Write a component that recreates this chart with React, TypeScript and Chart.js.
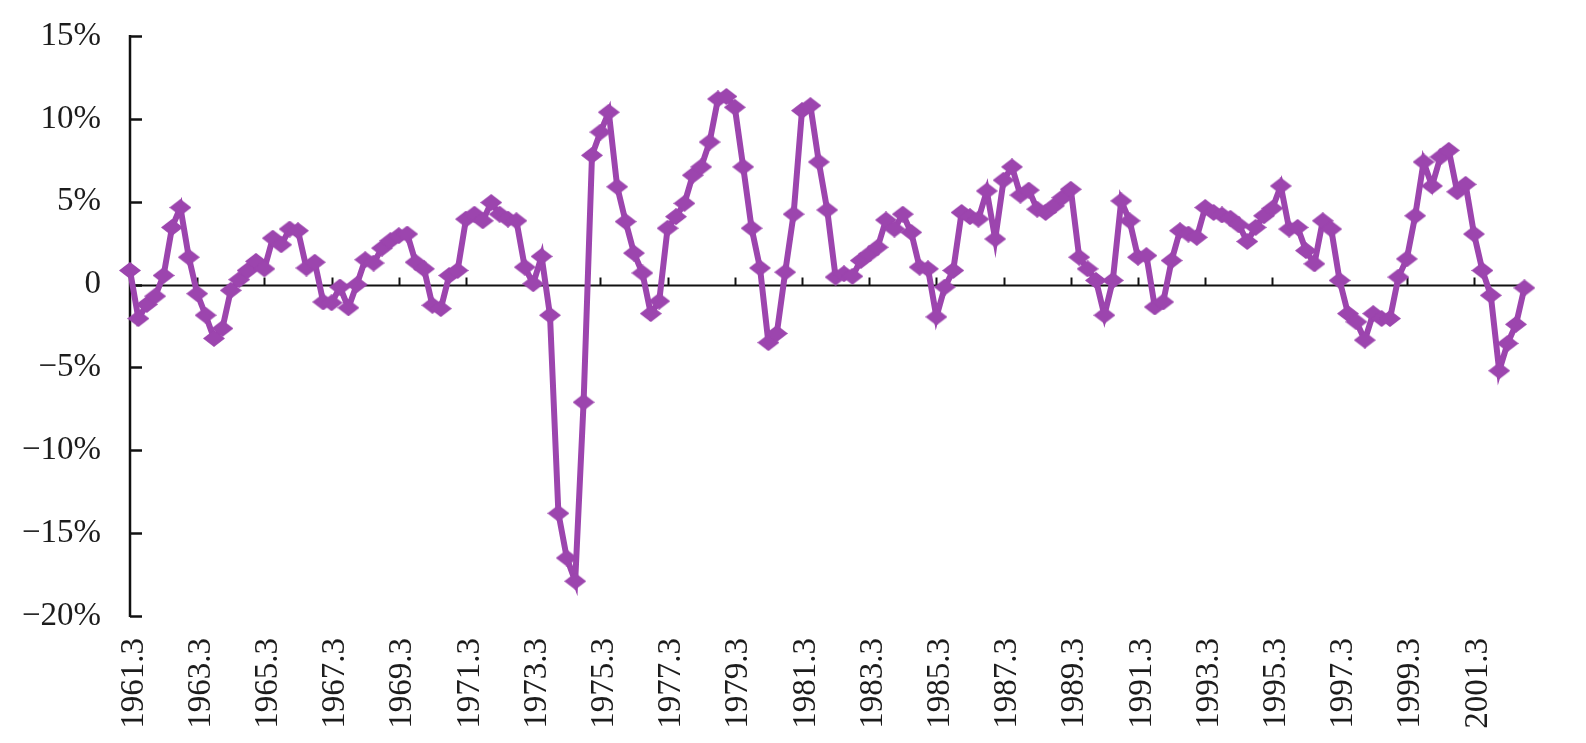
import React, { useEffect, useRef } from 'react';
import { Chart, registerables } from 'chart.js';

Chart.register(...registerables);

// Quarterly growth rate (%), starting 1961 Q3
const START_YEAR = 1961;
const START_QUARTER = 3;

const GROWTH: number[] = [
  0.85, -2.05, -1.2, -0.7, 0.55, 3.45, 4.65, 1.65, -0.55, -1.85,
  -3.25, -2.65, -0.35, 0.3, 0.85, 1.4, 0.95, 2.8, 2.4, 3.35,
  3.25, 1.0, 1.35, -1.05, -1.1, -0.15, -1.4, 0.0, 1.5, 1.3,
  2.2, 2.65, 2.95, 3.05, 1.35, 0.95, -1.25, -1.45, 0.55, 0.85,
  3.95, 4.25, 3.85, 4.95, 4.25, 3.95, 3.85, 1.05, 0.05, 1.7,
  -1.85, -13.8, -16.5, -17.9, -7.1, 7.8, 9.2, 10.4, 5.9, 3.8,
  1.9, 0.7, -1.75, -1.0, 3.4, 4.1, 4.9, 6.6, 7.1, 8.6,
  11.2, 11.35, 10.7, 7.1, 3.4, 1.0, -3.5, -2.95, 0.75, 4.25,
  10.5, 10.8, 7.4, 4.5, 0.45, 0.65, 0.5, 1.45, 1.85, 2.25,
  3.9, 3.35, 4.25, 3.15, 1.05, 0.95, -1.95, -0.15, 0.85, 4.35,
  4.1, 3.95, 5.65, 2.75, 6.3, 7.1, 5.4, 5.7, 4.55, 4.35,
  4.75, 5.25, 5.75, 1.65, 0.95, 0.25, -1.85, 0.25, 5.05, 3.85,
  1.65, 1.75, -1.35, -1.05, 1.45, 3.25, 3.05, 2.85, 4.65, 4.35,
  4.2, 4.0, 3.6, 2.6, 3.45, 4.15, 4.6, 5.95, 3.35, 3.45,
  2.05, 1.25, 3.85, 3.35, 0.25, -1.75, -2.25, -3.35, -1.75, -2.05,
  -2.05, 0.45, 1.55, 4.15, 7.4, 5.95, 7.7, 8.1, 5.6, 6.05,
  3.05, 0.85, -0.65, -5.2, -3.55, -2.4, -0.2,
];

const TICK_LABELS: string[] = [
  '1961.3', '1963.3', '1965.3', '1967.3', '1969.3', '1971.3', '1973.3',
  '1975.3', '1977.3', '1979.3', '1981.3', '1983.3', '1985.3', '1987.3',
  '1989.3', '1991.3', '1993.3', '1995.3', '1997.3', '1999.3', '2001.3',
];

const Y_MIN = -20;
const Y_MAX = 15;
const Y_STEP = 5;

const QUARTERS: string[] = GROWTH.map((_, i) => {
  const q = START_QUARTER - 1 + i;
  return `${START_YEAR + Math.floor(q / 4)}.${(q % 4) + 1}`;
});

const LINE_COLOR = '#9C45AE';
const AXIS_COLOR = '#111111';
const TEXT_COLOR = '#1c1c1c';
const FONT_FAMILY = '"Liberation Serif", "Times New Roman", serif';

function makeDiamond(w: number, h: number, color: string): HTMLCanvasElement {
  const c = document.createElement('canvas');
  c.width = w;
  c.height = h;
  const g = c.getContext('2d')!;
  g.fillStyle = color;
  g.beginPath();
  g.moveTo(w / 2, 0);
  g.lineTo(w, h / 2);
  g.lineTo(w / 2, h);
  g.lineTo(0, h / 2);
  g.closePath();
  g.fill();
  return c;
}

const axesPlugin = {
  id: 'excelAxes',
  beforeDatasetsDraw(chart: any) {
    const { ctx, chartArea: a, scales } = chart;
    const x = scales.x;
    const y = scales.y;
    ctx.save();
    ctx.strokeStyle = AXIS_COLOR;
    ctx.lineCap = 'butt';
    // y axis line
    ctx.lineWidth = 2.5;
    ctx.beginPath();
    ctx.moveTo(a.left, a.top - 1);
    ctx.lineTo(a.left, a.bottom + 1);
    ctx.stroke();
    // y ticks (inside)
    for (let v = Y_MIN; v <= Y_MAX; v += Y_STEP) {
      const py = Math.round(y.getPixelForValue(v)) + 0.5;
      ctx.beginPath();
      ctx.moveTo(a.left, py);
      ctx.lineTo(a.left + 12, py);
      ctx.stroke();
    }
    // zero line
    const y0 = Math.round(y.getPixelForValue(0)) + 0.5;
    ctx.lineWidth = 2;
    ctx.beginPath();
    ctx.moveTo(a.left, y0);
    ctx.lineTo(a.right + 1, y0);
    ctx.stroke();
    // x ticks upward from zero line
    QUARTERS.forEach((q, i) => {
      if (TICK_LABELS.includes(q) && i > 0) {
        const px = Math.round(x.getPixelForValue(i)) + 0.5;
        ctx.beginPath();
        ctx.moveTo(px, y0);
        ctx.lineTo(px, y0 - 8);
        ctx.stroke();
      }
    });
    ctx.restore();
  },
};

export default function App() {
  const canvasRef = useRef<HTMLCanvasElement | null>(null);

  useEffect(() => {
    if (!canvasRef.current) return;
    const diamond = makeDiamond(22, 17, LINE_COLOR);
    const chart = new Chart(canvasRef.current, {
      type: 'line',
      data: {
        labels: QUARTERS,
        datasets: [
          {
            data: GROWTH,
            borderColor: LINE_COLOR,
            backgroundColor: LINE_COLOR,
            borderWidth: 6,
            tension: 0,
            pointStyle: diamond as any,
            pointRadius: 8,
            pointHoverRadius: 8,
            fill: false,
          },
        ],
      },
      options: {
        animation: false,
        responsive: false,
        maintainAspectRatio: false,
        events: [],
        layout: { padding: { top: 36, right: 57, bottom: 0, left: 0 } },
        plugins: {
          legend: { display: false },
          tooltip: { enabled: false },
          title: { display: false },
        },
        scales: {
          x: {
            type: 'category',
            offset: false,
            grid: { display: false, drawTicks: false },
            border: { display: false },
            ticks: {
              autoSkip: false,
              maxRotation: 90,
              minRotation: 90,
              padding: 22,
              labelOffset: 4,
              color: TEXT_COLOR,
              font: { family: FONT_FAMILY, size: 33 },
              callback: (_v: any, i: number) => (TICK_LABELS.includes(QUARTERS[i]) ? QUARTERS[i] : ''),
            },
            afterFit: (scale: any) => {
              scale.height = 127;
            },
          },
          y: {
            min: Y_MIN,
            max: Y_MAX,
            grid: { display: false, drawTicks: false },
            border: { display: false },
            ticks: {
              stepSize: Y_STEP,
              padding: 29,
              color: TEXT_COLOR,
              font: { family: FONT_FAMILY, size: 33 },
              callback: (v: any) => {
                const n = Number(v);
                if (n === 0) return '0';
                return (n < 0 ? '\u2212' + Math.abs(n) : String(n)) + '%';
              },
            },
            afterFit: (scale: any) => {
              scale.width = 130;
              scale.paddingTop = 20;
              scale.paddingBottom = 20;
            },
          },
        },
      },
      plugins: [axesPlugin],
    });
    return () => chart.destroy();
  }, []);

  return (
    <div style={{ position: 'fixed', left: 0, top: 0, width: 1586, height: 743, background: '#ffffff' }}>
      <canvas ref={canvasRef} width={1586} height={743} style={{ width: 1586, height: 743, display: 'block' }} />
    </div>
  );
}
